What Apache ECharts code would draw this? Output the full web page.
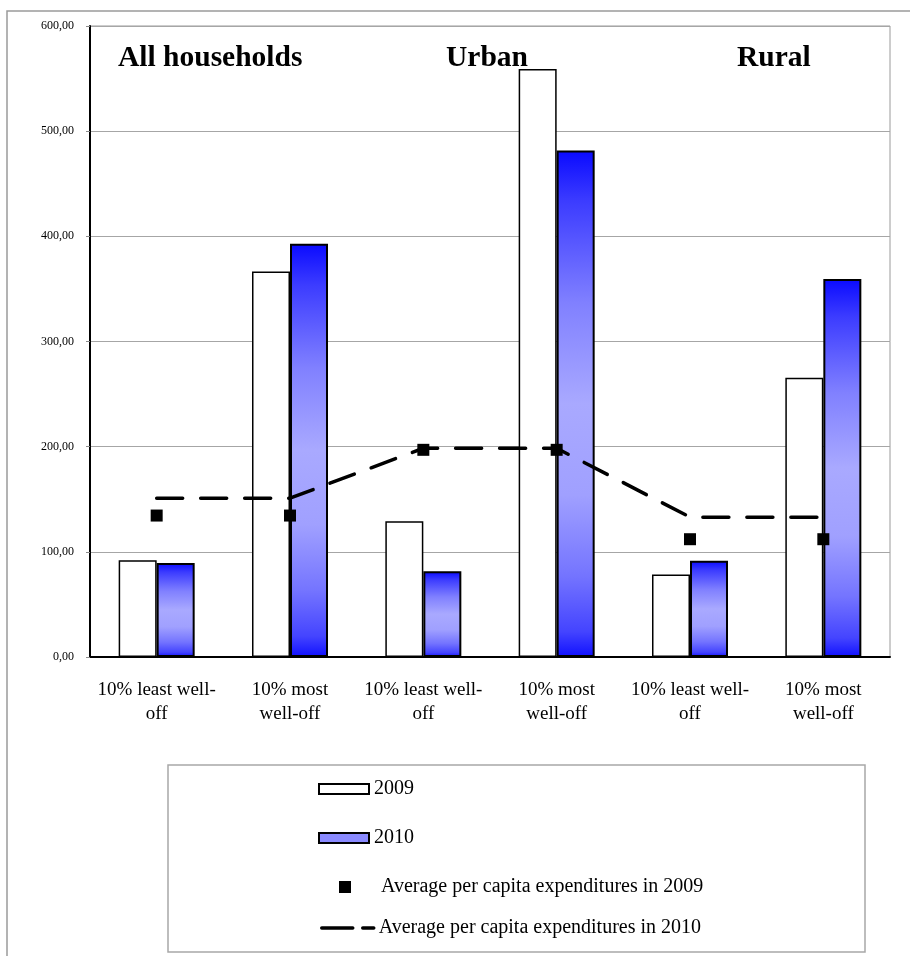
<!DOCTYPE html>
<html>
<head>
<meta charset="utf-8">
<script src="https://cdn.jsdelivr.net/npm/echarts@6/dist/echarts.min.js"></script>
<style>
  html, body { margin: 0; padding: 0; background: #fff; }
  #chart { width: 910px; height: 956px; }
</style>
</head>
<body>
<div id="chart"></div>
<script>
const categories = [
  '10% least well-\noff', '10% most\nwell-off',
  '10% least well-\noff', '10% most\nwell-off',
  '10% least well-\noff', '10% most\nwell-off'
]
const groupTitles = ['All households', 'Urban', 'Rural']
const bars2009 = [92, 366.5, 129, 559, 78.5, 265.5]
const bars2010 = [89.5, 393, 81.5, 481.5, 91.5, 359.5]
const avg2009 = [134.5, 134.5, 197, 197, 112, 112]
const avg2010 = [151, 151, 198.5, 198.5, 133, 133]
const seriesNames = ['2009', '2010', 'Average per capita expenditures in 2009', 'Average per capita expenditures in 2010']

const SERIF = '"Liberation Serif", "Times New Roman", serif'

const blueFill = new echarts.graphic.LinearGradient(0, 0, 0, 1, [
  { offset: 0, color: '#0a0aff' },
  { offset: 0.1, color: '#3c3cff' },
  { offset: 0.3, color: '#8080ff' },
  { offset: 0.5, color: '#a9a9ff' },
  { offset: 0.68, color: '#a0a0ff' },
  { offset: 0.84, color: '#7474ff' },
  { offset: 0.95, color: '#4444ff' },
  { offset: 1, color: '#1010ff' }
])

const chart = echarts.init(document.getElementById('chart'), null, { renderer: 'canvas' })

function legendAt(item, left, top, w, h, extra) {
  return Object.assign({
    data: [item], orient: 'vertical', left, top,
    itemWidth: w, itemHeight: h, selectedMode: false,
    textStyle: { fontFamily: SERIF, fontSize: 20, color: '#000' }
  }, extra || {})
}

const titleX = [118, 446, 737]

chart.setOption({
  animation: false,
  backgroundColor: '#fff',
  grid: { left: 90, right: 20, top: 26, bottom: 299, show: true, borderColor: '#9a9a9a', borderWidth: 1 },
  xAxis: {
    type: 'category', data: categories,
    axisLine: { lineStyle: { color: '#000', width: 2 } },
    axisTick: { length: 6, lineStyle: { color: '#8a8a8a' } },
    axisLabel: { fontFamily: SERIF, fontSize: 19, color: '#000', lineHeight: 24, margin: 21, interval: 0 }
  },
  yAxis: {
    type: 'value', min: 0, max: 600, interval: 100,
    axisLine: { show: true, lineStyle: { color: '#000', width: 2 } },
    axisTick: { show: true, length: 4, lineStyle: { color: '#8a8a8a' } },
    splitLine: { lineStyle: { color: '#a6a6a6', width: 1 } },
    axisLabel: {
      fontFamily: SERIF, fontSize: 12, color: '#000', margin: 16,
      formatter: v => v.toFixed(2).replace('.', ',')
    }
  },
  legend: [
    legendAt({ name: seriesNames[0], icon: 'rect' }, 313, 774, 50, 10),
    legendAt({ name: seriesNames[1], icon: 'rect', itemStyle: { color: '#8a8aff', borderColor: '#000', borderWidth: 2 } }, 313, 823, 50, 10),
    legendAt({ name: seriesNames[2], icon: 'rect', itemStyle: { color: '#000', opacity: 1 } }, 334, 872, 12, 12, {
      textStyle: { fontFamily: SERIF, fontSize: 20, color: '#000', padding: [0, 0, 0, 25] }
    }),
    legendAt({
      name: seriesNames[3],
      itemStyle: { color: 'rgba(0,0,0,0)', borderWidth: 0 },
      lineStyle: { color: '#000', width: 3.5, type: [31, 10], cap: 'round' }
    }, 315, 913, 52, 14)
  ],
  graphic: [
    { type: 'rect', shape: { x: 7, y: 11, width: 1000, height: 1000 }, style: { fill: 'none', stroke: '#9a9a9a', lineWidth: 1.5 }, z: -10 },
    { type: 'rect', shape: { x: 168, y: 765, width: 697, height: 187 }, style: { fill: 'none', stroke: '#a8a8a8', lineWidth: 1.5 }, z: -10 }
  ].concat(groupTitles.map((t, i) => ({
    type: 'text', left: titleX[i], top: 43,
    style: { text: t, fontFamily: SERIF, fontSize: 29.5, fontWeight: 'bold', fill: '#000' }
  }))),
  series: [
    {
      name: seriesNames[0], type: 'bar', data: bars2009, barWidth: 38, barGap: '0%',
      itemStyle: { color: '#fff', borderColor: '#000', borderWidth: 1.5 }
    },
    {
      name: seriesNames[1], type: 'bar', data: bars2010, barWidth: 38,
      itemStyle: { color: blueFill, borderColor: '#000', borderWidth: 2 }
    },
    {
      name: seriesNames[2], type: 'scatter', data: avg2009, symbol: 'rect', symbolSize: 12,
      itemStyle: { color: '#000', opacity: 1 }, z: 5
    },
    {
      name: seriesNames[3], type: 'line', data: avg2010, symbol: 'none', showSymbol: false,
      lineStyle: { color: '#000', width: 3.5, type: [26, 18], cap: 'round' },
      itemStyle: { color: '#000' }, z: 4
    }
  ]
})
</script>
</body>
</html>
